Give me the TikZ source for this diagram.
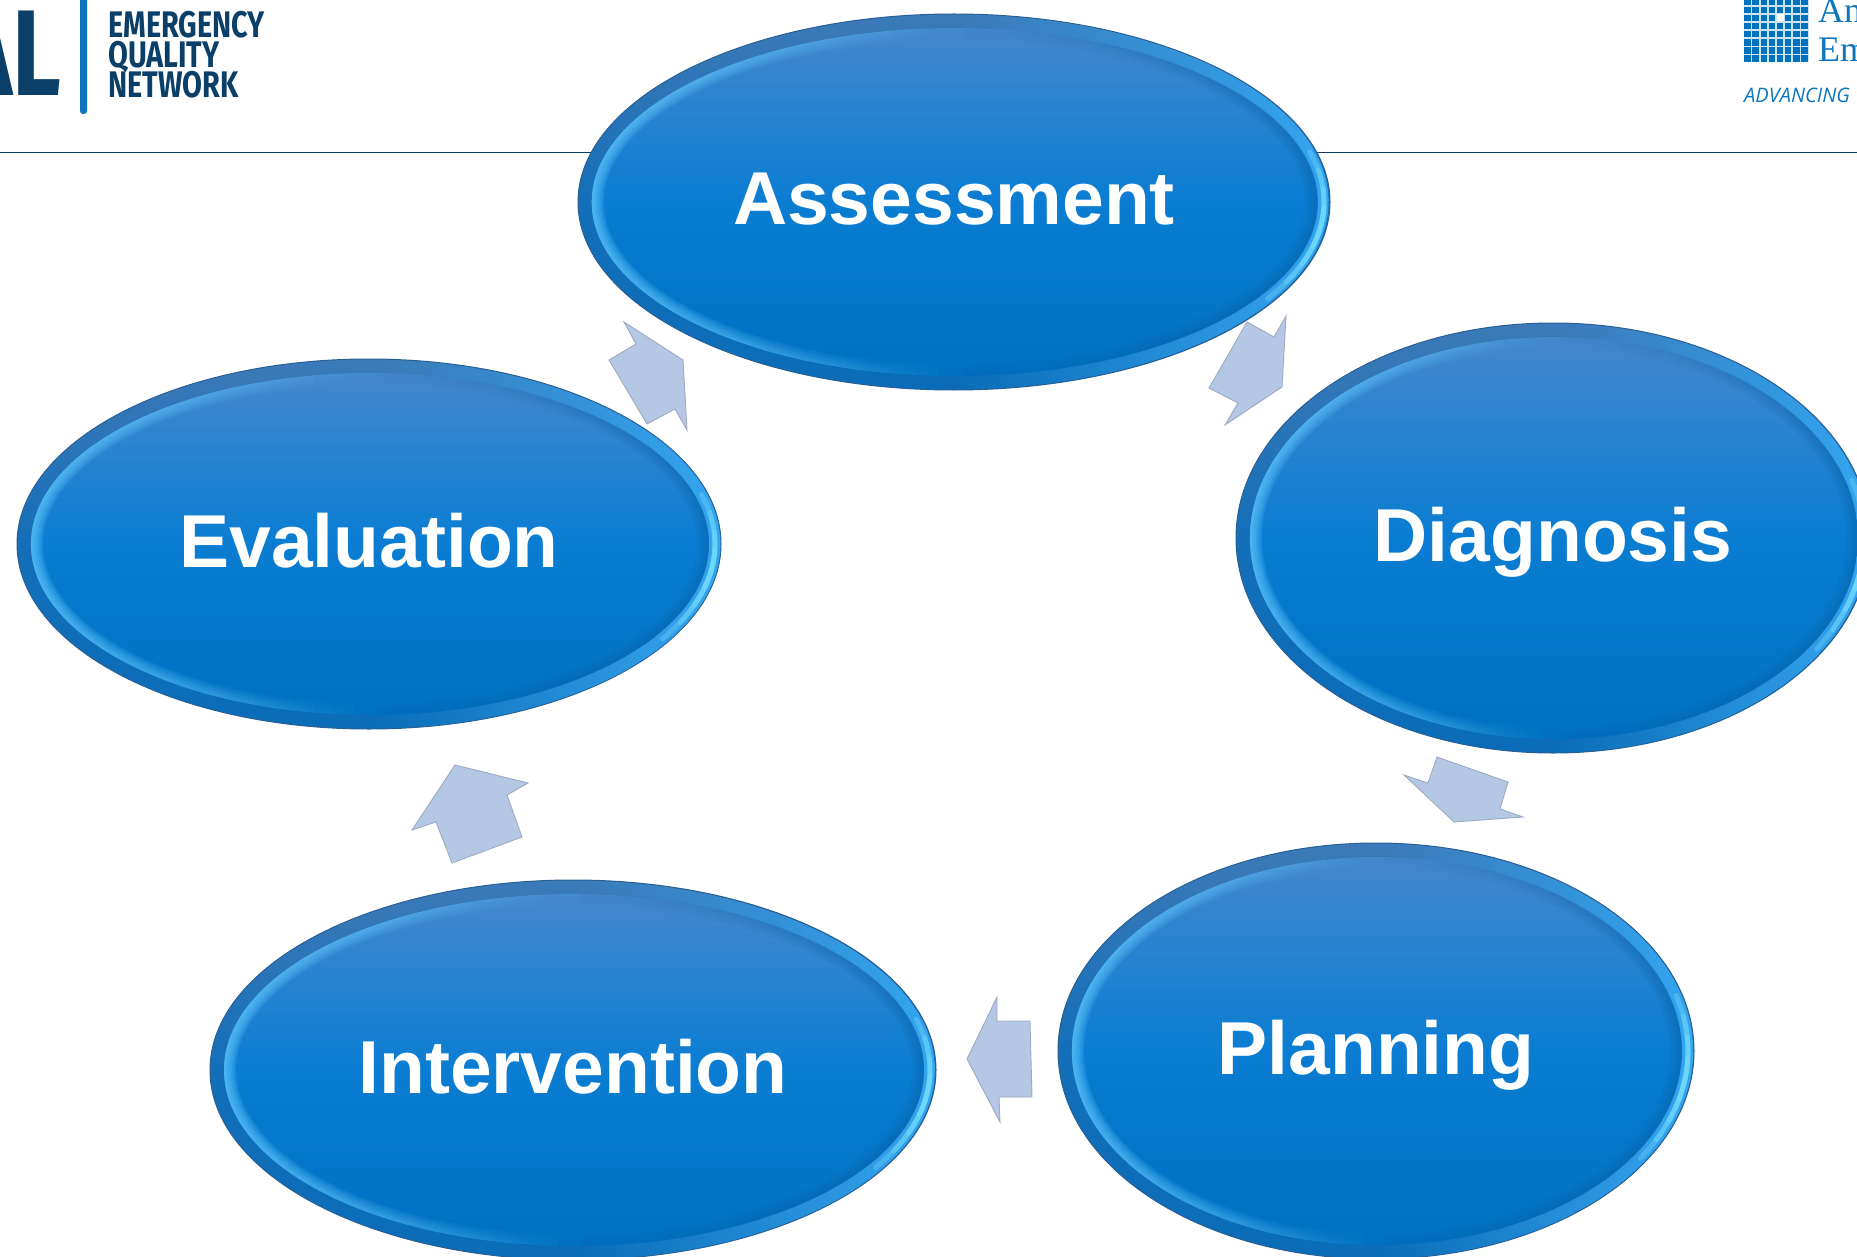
\documentclass[tikz,border=0pt]{standalone}
\usepackage{fontspec}
\setmainfont{Liberation Sans}
\newfontfamily\logofont[FakeStretch=0.78]{Fira Sans}
\newfontfamily\seriflogo{Liberation Serif}
\newfontfamily\tagfont{Open Sans}
\usetikzlibrary{shapes.geometric,fadings}
\definecolor{navyline}{HTML}{0B3F68}
\definecolor{logoblue}{HTML}{0F75BD}
\definecolor{tileblue}{HTML}{0071BC}
\definecolor{ringtop}{HTML}{3C7AB8}
\definecolor{ringbottom}{HTML}{0A6CB8}
\definecolor{ringedge}{HTML}{2A5F94}
\definecolor{ringbright}{HTML}{35A6F0}
\definecolor{facetop}{HTML}{4488CE}
\definecolor{facemid}{HTML}{0A7DD2}
\definecolor{facebottom}{HTML}{0070C0}
\definecolor{glowblue}{HTML}{62C8FF}
\definecolor{shadeblue}{HTML}{0A5FA0}
\definecolor{spotblue}{HTML}{80E8FF}
\definecolor{arrowfill}{HTML}{B4C7E5}
\definecolor{arrowedge}{HTML}{A0A9C2}
\tikzfading[name=rimright,left color=transparent!100,right color=transparent!0,middle color=transparent!100]
\tikzfading[name=rimleft,left color=transparent!0,right color=transparent!100,middle color=transparent!100]
\tikzset{
  ringfill/.style={top color=ringtop,bottom color=ringbottom,middle color=ringbottom!80!ringtop},
  facefill/.style={top color=facetop,bottom color=facebottom,middle color=facemid},
  bubbletext/.style={shape=ellipse,inner sep=0pt,text=white,text height=54pt,text depth=0pt,
    font=\fontsize{75}{75}\bfseries\selectfont},
  blockarrow/.style={fill=arrowfill,draw=arrowedge,line width=0.9pt,line join=miter},
  logotext/.style={anchor=base west,inner sep=0pt,text=navyline,
    font=\logofont\fontsize{37}{37}\bfseries\selectfont}
}
\newcommand{\bubble}[6]{
  \path[ringfill,draw=ringedge,line width=1pt] (#2,#3) ellipse ({#4} and {#5});
  \fill[ringbright,path fading=rimright] (#2,#3) ellipse ({#4-0.5} and {#5-0.5});
  \foreach \a in {6,12,18,24}
    \draw[spotblue,opacity=0.3,line width=5pt,line cap=round] (#2,#3)
      +({8-\a}:{#4-6} and {#5-6}) arc[start angle=8-\a,end angle=8+\a,x radius=#4-6,y radius=#5-6];
  \path[facefill] (#2+1,#3) ellipse ({#4-13} and {#5-14});
  \foreach \r in {2,4,6,8,10,12}
    \fill[glowblue,opacity=0.2,even odd rule,path fading=rimleft] (#2+1,#3) ellipse ({#4-13} and {#5-14})
      (#2+1,#3) ellipse ({#4-13-\r} and {#5-14-\r});
  \foreach \r in {3,6,9,12}
    \fill[shadeblue,opacity=0.12,even odd rule,path fading=rimright] (#2+1,#3) ellipse ({#4-13} and {#5-14})
      (#2+1,#3) ellipse ({#4-13-\r} and {#5-14-\r});
  \node[bubbletext] (#1) at (#2,#3-4) {#6};
}
\begin{document}
\begin{tikzpicture}[x=1pt,y=-1pt]
  \useasboundingbox (0,0) rectangle (1857,1257);
  \draw[navyline,line width=1.5pt] (0,152.5) -- (1857,152.5);
  \fill[logoblue,rounded corners=3pt] (80,-10) rectangle (87,114);
  \node[logotext,anchor=base east,font=\logofont\fontsize{122}{122}\bfseries\selectfont] (logoal) at (62,96) {AL};
  \node[logotext,align=left] (logoname) at (108,97.5) {EMERGENCY\\[-7pt]QUALITY\\[-7pt]NETWORK};
  \fill[tileblue!20] (1744,0) rectangle (1808.5,62);
  \foreach \col in {0,...,7}
    \foreach \row in {0,...,7}
      \fill[tileblue] (1744.3+8.1*\col,55.2-8.1*\row) rectangle +(6.6,6.6);
  \fill[white] (1776.5,14.5) rectangle +(7,7);
  \node[anchor=base west,inner sep=0pt,text=logoblue,font=\seriflogo\fontsize{36}{36}\selectfont] (logoan) at (1818,23) {An};
  \node[anchor=base west,inner sep=0pt,text=logoblue,font=\seriflogo\fontsize{36}{36}\selectfont] (logoem) at (1818,62) {Em};
  \node[anchor=base west,inner sep=0pt,text=logoblue,font=\tagfont\fontsize{20}{20}\itshape\selectfont] (logotag) at (1744,103) {ADVANCING};
  \bubble{assess}{954}{202}{376}{188}{Assessment}
  \bubble{diag}{1553}{538}{317}{215}{Diagnosis}
  \bubble{plan}{1376}{1051}{318}{208}{Planning}
  \bubble{interv}{573}{1070}{363}{190}{Intervention}
  \bubble{eval}{369}{544}{352}{185}{Evaluation}
  \draw[blockarrow] (1247,322) -- (1274,337) -- (1286,316) -- (1282,387) -- (1225,425) -- (1238,403) -- (1209,388) -- cycle;
  \draw[blockarrow] (1437,757) -- (1508,782) -- (1500,809) -- (1523,817) -- (1454,822) -- (1404,775) -- (1428,783) -- cycle;
  \draw[blockarrow] (997,997) -- (997,1021) -- (1030,1021) -- (1032,1097) -- (999,1097) -- (1000,1122) -- (967,1059) -- cycle;
  \draw[blockarrow] (455,765) -- (528,783) -- (507,795) -- (522,837) -- (452,863) -- (436,822) -- (412,830) -- cycle;
  \draw[blockarrow] (624,322) -- (683,360) -- (687,430) -- (675,409) -- (647,424) -- (609,360) -- (636,344) -- cycle;
\end{tikzpicture}
\end{document}
